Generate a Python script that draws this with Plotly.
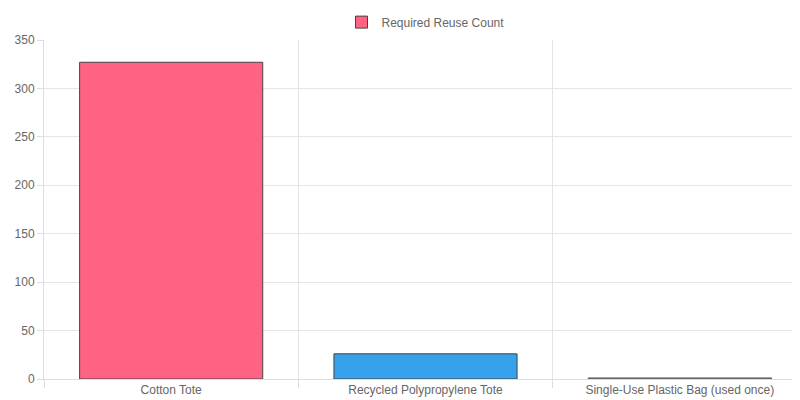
import plotly.graph_objects as go

categories = ["Cotton Tote", "Recycled Polypropylene Tote", "Single-Use Plastic Bag (used once)"]
values = [327, 26, 1]
colors = ["#FF6384", "#36A2EB", "#CFC8B0"]
series_name = "Required Reuse Count"

idx = list(range(len(categories)))
fig = go.Figure()
fig.add_trace(go.Bar(x=idx, y=values, name=series_name, showlegend=True,
                     marker=dict(color=colors, line=dict(color="#444", width=1))))
fig.add_trace(go.Scatter(x=[None], y=[None], xaxis="x2", showlegend=False))
fig.update_layout(
    width=800, height=400, plot_bgcolor="white", paper_bgcolor="white",
    margin=dict(l=36, r=1, t=32, b=29, autoexpand=False),
    font=dict(family="Liberation Sans, Arial, sans-serif", size=12, color="#666"),
    bargap=0.28,
    legend=dict(orientation="h", x=0.5, xanchor="center", y=1.01, yanchor="bottom",
                font=dict(size=12, color="#666"), itemwidth=30),
    xaxis=dict(range=[-0.5, 2.5], tickvals=idx, ticktext=categories, showgrid=False,
               zeroline=False, showline=True, linecolor="#ddd", ticks="", automargin=False),
    xaxis2=dict(range=[-0.5, 2.5], overlaying="x", side="bottom",
                tickvals=[-0.5, 0.5, 1.5, 2.5], showticklabels=False, automargin=False,
                showgrid=True, gridcolor="#e5e5e5", ticks="outside", ticklen=8, tickcolor="#ddd"),
    yaxis=dict(range=[0, 350], dtick=50, gridcolor="#e5e5e5", zeroline=False, automargin=False,
               showline=True, linecolor="#ddd", ticks="outside", ticklen=6, tickcolor="#ddd"),
)
fig.write_html("out.html")
